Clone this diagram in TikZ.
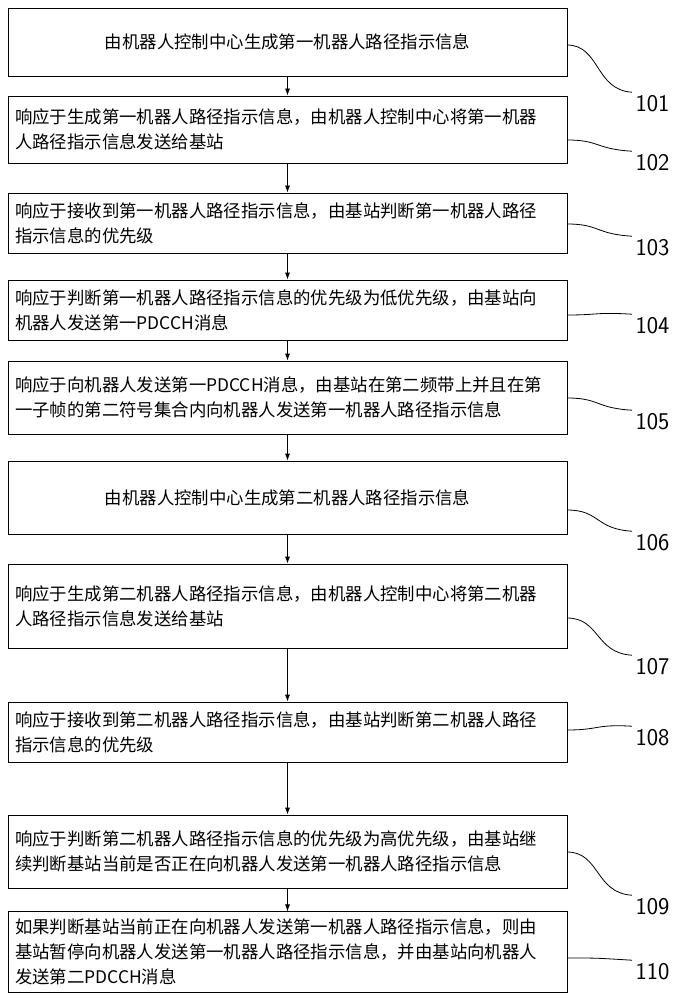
\documentclass[tikz,border=0pt]{standalone}
\usepackage{fontspec}
\newfontfamily\cjk{Noto Sans CJK SC}
\usetikzlibrary{arrows.meta}
\begin{document}
\begin{tikzpicture}[x=1pt,y=-1pt,
  box/.style={draw,thick,minimum width=559pt,text width=545pt,inner sep=7pt,font=\cjk\fontsize{17.4}{25}\selectfont},
  lab/.style={anchor=west,font=\sffamily\fontsize{24}{24}\selectfont},
  arr/.style={-{Latex[length=7pt,width=5pt]},thick},
  cv/.style={thick}]
\useasboundingbox (0,0) rectangle (689,1000);
\def\B#1#2#3#4#5{\node[box,minimum height=#3-#2,align=#4] (b#1) at (287.5,{(#2+#3)/2}) {#5};}
\B{1}{8}{76}{center}{由机器人控制中心生成第一机器人路径指示信息}
\B{2}{96}{163}{left}{响应于生成第一机器人路径指示信息，由机器人控制中心将第一机器\\人路径指示信息发送给基站}
\B{3}{193}{253}{left}{响应于接收到第一机器人路径指示信息，由基站判断第一机器人路径\\指示信息的优先级}
\B{4}{280}{340}{left}{响应于判断第一机器人路径指示信息的优先级为低优先级，由基站向\\机器人发送第一PDCCH消息}
\B{5}{361}{434}{left}{响应于向机器人发送第一PDCCH消息，由基站在第二频带上并且在第\\一子帧的第二符号集合内向机器人发送第一机器人路径指示信息}
\B{6}{461}{534}{center}{由机器人控制中心生成第二机器人路径指示信息}
\B{7}{564}{648}{left}{响应于生成第二机器人路径指示信息，由机器人控制中心将第二机器\\人路径指示信息发送给基站}
\B{8}{702}{762}{left}{响应于接收到第二机器人路径指示信息，由基站判断第二机器人路径\\指示信息的优先级}
\B{9}{815}{888}{left}{响应于判断第二机器人路径指示信息的优先级为高优先级，由基站继\\续判断基站当前是否正在向机器人发送第一机器人路径指示信息}
\B{10}{912}{992}{left}{如果判断基站当前正在向机器人发送第一机器人路径指示信息，则由\\基站暂停向机器人发送第一机器人路径指示信息，并由基站向机器人\\发送第二PDCCH消息}
\foreach \a/\b in {1/2,2/3,3/4,4/5,5/6,6/7,7/8,8/9,9/10}
  \draw[arr] (b\a.south) -- (b\b.north);
\def\L#1#2#3{\node[lab] (l#1) at (632,#3) {#1};
  \coordinate (s#1) at (567,#2);
  \draw[cv] (s#1) .. controls (600,#2) and (595,#3-14) .. (l#1.north west);}
\L{101}{45}{104}
\L{102}{140}{163}
\L{103}{224}{248}
\L{104}{315}{326}
\L{105}{398}{422}
\L{106}{510}{543}
\L{107}{618}{667}
\L{108}{730}{738}
\L{109}{852}{907}
\L{110}{958}{972}
\end{tikzpicture}
\end{document}
